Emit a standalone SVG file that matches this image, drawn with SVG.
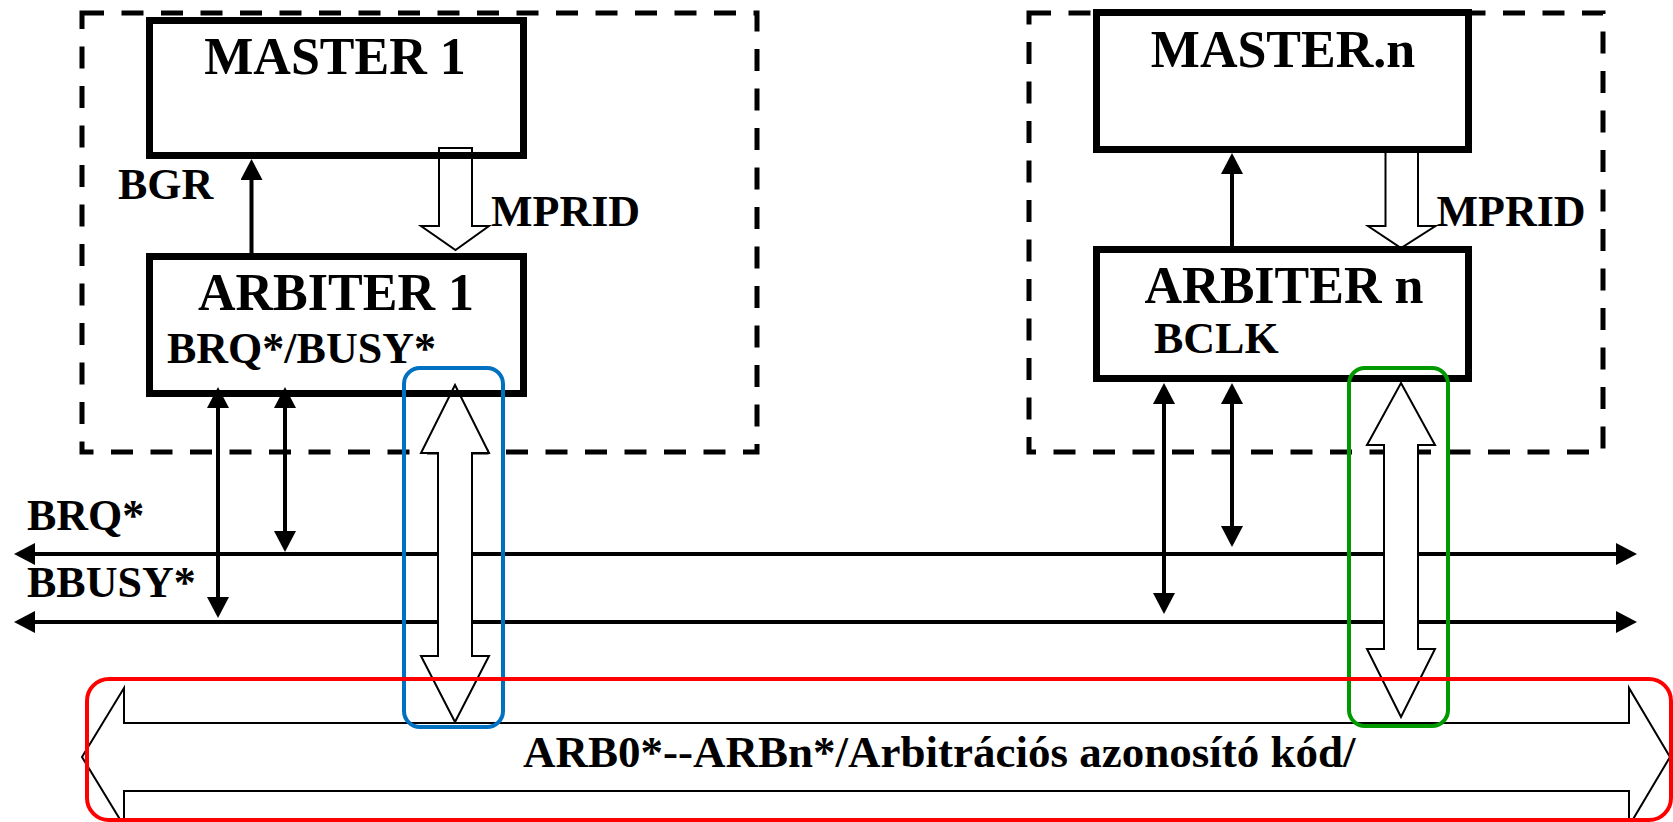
<svg xmlns="http://www.w3.org/2000/svg" width="1673" height="822" viewBox="0 0 1673 822">
<style>
.dash{fill:none;stroke:#000;stroke-width:5;stroke-dasharray:22 17.5}
.box{fill:none;stroke:#000;stroke-width:7}
.ln{stroke:#000;stroke-width:4;fill:none}
.hol{fill:#fff;stroke:#000;stroke-width:2;stroke-linejoin:miter}
.t{font-family:"Liberation Serif","Times New Roman",serif;font-weight:bold;fill:#000}
.big{font-size:52px}
.mid{font-size:44px}
.hl{fill:none;stroke-width:4}
</style>
<defs>
<marker id="ah" markerUnits="userSpaceOnUse" markerWidth="22" markerHeight="22" refX="0" refY="11" orient="auto-start-reverse" viewBox="0 0 21 22">
<path d="M0,0 L21,11 L0,22 z" fill="#000"/>
</marker>
</defs>
<rect width="1673" height="822" fill="#fff"/>
<g id="group1"><rect class="dash" x="82" y="13" width="675" height="439"/></g>
<g id="groupn"><rect class="dash" x="1029" y="13" width="574" height="439"/></g>
<g id="connectors">
<line class="ln" x1="35" y1="554" x2="1616" y2="554" marker-start="url(#ah)" marker-end="url(#ah)"/>
<line class="ln" x1="35" y1="622" x2="1616" y2="622" marker-start="url(#ah)" marker-end="url(#ah)"/>
<line class="ln" x1="218" y1="408" x2="218" y2="597" marker-start="url(#ah)" marker-end="url(#ah)"/>
<line class="ln" x1="285" y1="408" x2="285" y2="531" marker-start="url(#ah)" marker-end="url(#ah)"/>
<line class="ln" x1="1164" y1="404" x2="1164" y2="593" marker-start="url(#ah)" marker-end="url(#ah)"/>
<line class="ln" x1="1232" y1="404" x2="1232" y2="526" marker-start="url(#ah)" marker-end="url(#ah)"/>
<line class="ln" x1="251.5" y1="256" x2="251.5" y2="180" marker-end="url(#ah)"/>
<line class="ln" x1="1232" y1="249" x2="1232" y2="174" marker-end="url(#ah)"/>
<polygon class="hol" points="439,148 472,148 472,226 489,226 455.5,250 421,226 439,226"/>
<polygon class="hol" points="1385.5,150 1418,150 1418,226 1435.5,226 1401,248 1368,226 1385.5,226"/>
<polygon class="hol" points="455,385 489,453 472,453 472,656 489,656 455,722 421,656 438,656 438,453 421,453"/>
<polygon class="hol" points="1401,383 1435,445 1418,445 1418,649 1435,649 1401,717 1367,649 1384,649 1384,445 1367,445"/>
<polygon class="hol" points="82,757 124,688 124,723 1629,723 1629,688 1670,757 1629,826 1629,791 124,791 124,826"/>
</g>
<g id="master1"><rect class="box" x="149.5" y="20.5" width="374" height="135"/><text class="t big" x="335" y="74" text-anchor="middle">MASTER 1</text></g>
<g id="arbiter1"><rect class="box" x="149.5" y="256.5" width="374" height="137"/><text class="t big" x="336" y="310" text-anchor="middle">ARBITER 1</text><text class="t mid" x="167" y="363">BRQ*/BUSY*</text></g>
<g id="mastern"><rect class="box" x="1096.5" y="12.5" width="372" height="137"/><text class="t big" x="1283" y="67" text-anchor="middle">MASTER.n</text></g>
<g id="arbitern"><rect class="box" x="1096.5" y="249.5" width="372" height="129"/><text class="t big" x="1284" y="303" text-anchor="middle">ARBITER n</text><text class="t mid" x="1154" y="353">BCLK</text></g>
<g id="labels">
<text class="t mid" x="118" y="199">BGR</text>
<text class="t mid" x="491" y="226">MPRID</text>
<text class="t mid" x="1436.5" y="226">MPRID</text>
<text class="t mid" x="27" y="530">BRQ*</text>
<text class="t mid" x="27" y="597">BBUSY*</text>
<text class="t" x="523" y="767" font-size="45">ARB0*--ARBn*/Arbitrációs azonosító kód/</text>
</g>
<g id="highlights">
<rect class="hl" x="404" y="368" width="99" height="359" rx="16" stroke="#0070C0"/>
<rect class="hl" x="1349" y="368" width="99" height="358" rx="16" stroke="#009900"/>
<rect class="hl" x="87" y="679" width="1584" height="141" rx="22" stroke="#FF0000"/>
</g>
</svg>
